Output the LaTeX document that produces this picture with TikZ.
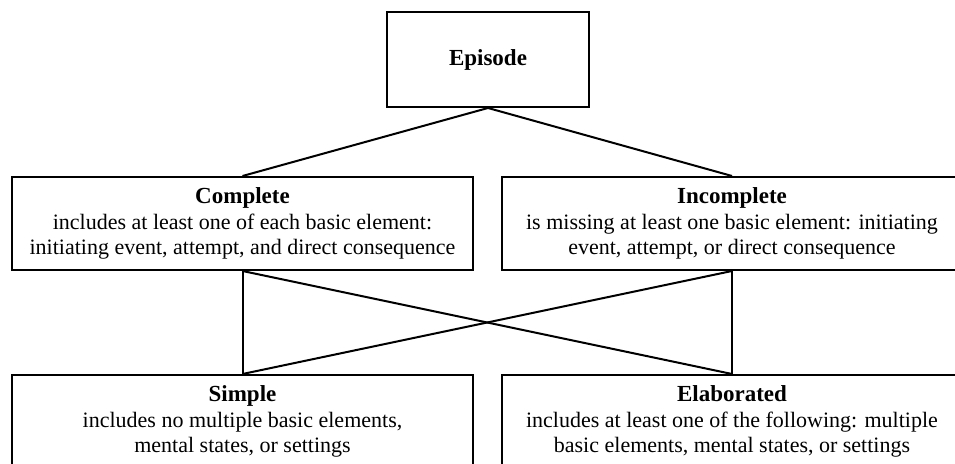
\documentclass[tikz,border=0pt]{standalone}
\usepackage{fontspec}
\setmainfont{Liberation Serif}
\usepackage{tikz}

\begin{document}
\begin{tikzpicture}[x=0.5pt, y=-0.5pt, line width=1pt,
  box/.style={draw, align=center, inner sep=0pt, minimum width=230.5pt,
    minimum height=46.5pt, font=\fontsize{11}{12.8}\selectfont},
  ttl/.style={font=\fontsize{11.5}{12.8}\selectfont\bfseries}]
\useasboundingbox (0,0) rectangle (955,464);
% boxes
\node[draw, inner sep=0pt, minimum width=101pt, minimum height=47.5pt,
  ttl] (episode) at (488,59.5) {Episode};
\node[box] (cmpl) at (242.5,223.5) {{\fontsize{11.5}{12.8}\selectfont\bfseries Complete}\\
  includes at least one of each basic element:\\
  initiating event, attempt, and direct consequence};
\node[box] (incmpl) at (732,223.5) {{\fontsize{11.5}{12.8}\selectfont\bfseries Incomplete}\\
  is missing at least one basic element: initiating\\
  event, attempt, or direct consequence};
\node[box] (simple) at (242.5,421.5) {{\fontsize{11.5}{12.8}\selectfont\bfseries Simple}\\
  includes no multiple basic elements,\\
  mental states, or settings};
\node[box] (elab) at (732,421.5) {{\fontsize{11.5}{12.8}\selectfont\bfseries Elaborated}\\
  includes at least one of the following: multiple\\
  basic elements, mental states, or settings};
% connectors
\draw (episode.south) -- (cmpl.north);
\draw (episode.south) -- (incmpl.north);
\draw (cmpl.south) -- (simple.north);
\draw (cmpl.south) -- (elab.north);
\draw (incmpl.south) -- (simple.north);
\draw (incmpl.south) -- (elab.north);
\end{tikzpicture}
\end{document}
